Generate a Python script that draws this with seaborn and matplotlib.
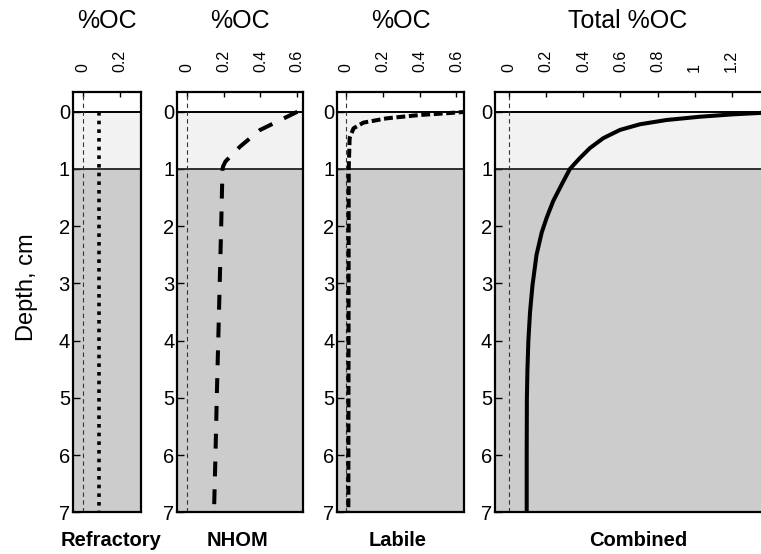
import matplotlib
matplotlib.use("Agg")
import matplotlib.pyplot as plt
import seaborn as sns
import pandas as pd

sns.set_style("white")
plt.rcParams["font.family"] = ["Liberation Sans", "DejaVu Sans"]
for k in ["text.color", "axes.labelcolor", "xtick.color", "ytick.color", "axes.edgecolor"]:
    plt.rcParams[k] = "black"

# ---------------- data ----------------
depth_ticks = [0, 1, 2, 3, 4, 5, 6, 7]

refractory_depth = [0, 7]
refractory_oc = [0.087, 0.087]

nhom_depth = [0, 0.32, 0.61, 0.87, 0.95, 1.0, 2, 3, 4, 5, 6, 7]
nhom_oc = [0.60, 0.397, 0.289, 0.210, 0.198, 0.194, 0.187, 0.179, 0.171, 0.163, 0.156, 0.148]

labile_depth = [0, 0.03, 0.057, 0.115, 0.19, 0.29, 0.46, 1, 7]
labile_oc = [0.66, 0.529, 0.40, 0.222, 0.095, 0.041, 0.02, 0.015, 0.013]

combined_depth = [0, 0.02, 0.045, 0.087, 0.144, 0.219, 0.318, 0.462, 0.635, 0.809,
                  1.0, 1.27, 1.56, 1.85, 2.11, 2.5, 3.04, 3.5, 4, 4.5, 5, 6, 7]
combined_oc = [1.55, 1.358, 1.209, 1.029, 0.849, 0.705, 0.597, 0.507, 0.435, 0.381,
               0.327, 0.283, 0.237, 0.202, 0.175, 0.147, 0.125, 0.112, 0.103, 0.098,
               0.095, 0.094, 0.094]

ref_ticks = [0, 0.2]
ref_ticklabels = ["0", "0.2"]
nhom_ticks = [0, 0.2, 0.4, 0.6]
nhom_ticklabels = ["0", "0.2", "0.4", "0.6"]
labile_ticks = [0, 0.2, 0.4, 0.6]
labile_ticklabels = ["0", "0.2", "0.4", "0.6"]
combined_ticks = [0, 0.2, 0.4, 0.6, 0.8, 1.0, 1.2]
combined_ticklabels = ["0", "0.2", "0.4", "0.6", "0.8", "1", "1.2"]

titles = ["%OC", "%OC", "%OC", "Total %OC"]
panel_names = ["Refractory", "NHOM", "Labile", "Combined"]

# ---------------- figure ----------------
W, H = 761, 554
fig = plt.figure(figsize=(W / 100, H / 100), dpi=100)

bottom = (H - 512.3) / H
height = (512.3 - 92) / H
rects = [
    (72.7 / W, bottom, 68.3 / W, height),
    (177.3 / W, bottom, 125.4 / W, height),
    (337.3 / W, bottom, 126.7 / W, height),
    (495.0 / W, bottom, (W - 495.0) / W, height),
]
xlims = [(-0.057, 0.312), (-0.051, 0.629), (-0.047, 0.641), (-0.077, 1.358)]

panels = [
    (refractory_oc, refractory_depth, ref_ticks, ref_ticklabels,
     dict(linestyle=(0, (1, 1.4)), lw=2.6, dash_capstyle="butt")),
    (nhom_oc, nhom_depth, nhom_ticks, nhom_ticklabels,
     dict(linestyle=(0, (3.7, 3.2)), lw=2.9, dash_capstyle="butt",
          solid_joinstyle="round", dash_joinstyle="round")),
    (labile_oc, labile_depth, labile_ticks, labile_ticklabels,
     dict(linestyle=(0, (2.2, 0.9)), lw=2.9, dash_capstyle="butt",
          dash_joinstyle="round")),
    (combined_oc, combined_depth, combined_ticks, combined_ticklabels,
     dict(linestyle="-", lw=2.9, solid_joinstyle="round")),
]

label_x = [111, 237, 398, 638]

for i, (rect, xl, (xv, dv, tks, tkl, style)) in enumerate(zip(rects, xlims, panels)):
    ax = fig.add_axes(rect)
    ax.axhspan(0, 1, color="#f2f2f2", zorder=0, lw=0)
    ax.axhspan(1, 7.5, color="#cccccc", zorder=0, lw=0)
    ax.axhline(0, color="black", lw=1.4, zorder=1)
    ax.axhline(1, color="#222222", lw=1.3, zorder=1)
    ax.axvline(0, color="#333333", lw=0.8, linestyle=(0, (4, 3)), zorder=1.5)

    df = pd.DataFrame({"oc": xv, "depth": dv})
    sns.lineplot(data=df, x="oc", y="depth", orient="y", sort=False, estimator=None,
                 color="black", ax=ax, zorder=3, **style)

    ax.set_xlim(*xl)
    ax.set_ylim(7, -0.345)
    ax.set_xlabel("")
    ax.set_ylabel("")

    ax.xaxis.tick_top()
    ax.set_xticks(tks)
    ax.set_xticklabels(tkl)
    ax.tick_params(axis="x", which="both", direction="in", length=3.6, width=1,
                   pad=14.4, labelsize=11.5, labelrotation=90,
                   top=True, bottom=False, labeltop=True, labelbottom=False)
    ax.set_yticks(depth_ticks)
    ax.set_yticklabels([str(d) for d in depth_ticks])
    ax.tick_params(axis="y", direction="in", length=5, width=1, pad=2,
                   labelsize=14.5, left=True, right=False)

    for side, sp in ax.spines.items():
        sp.set_visible(True)
        sp.set_color("black")
        sp.set_linewidth(1.6)
        sp.set_zorder(4)
    if i == 3:
        ax.spines["right"].set_visible(False)

    cx = rect[0] + rect[2] / 2 if i < 3 else 628 / W
    fig.text(cx, 1 - 21 / H, titles[i], ha="center", va="center", fontsize=18)
    fig.text(label_x[i] / W, 1 - 540 / H, panel_names[i], ha="center", va="center",
             fontsize=14.5, fontweight="bold")

fig.text(27 / W, 1 - 287 / H, "Depth, cm", rotation=90, ha="center", va="center",
         fontsize=17)

fig.savefig("out.png", dpi=100)
